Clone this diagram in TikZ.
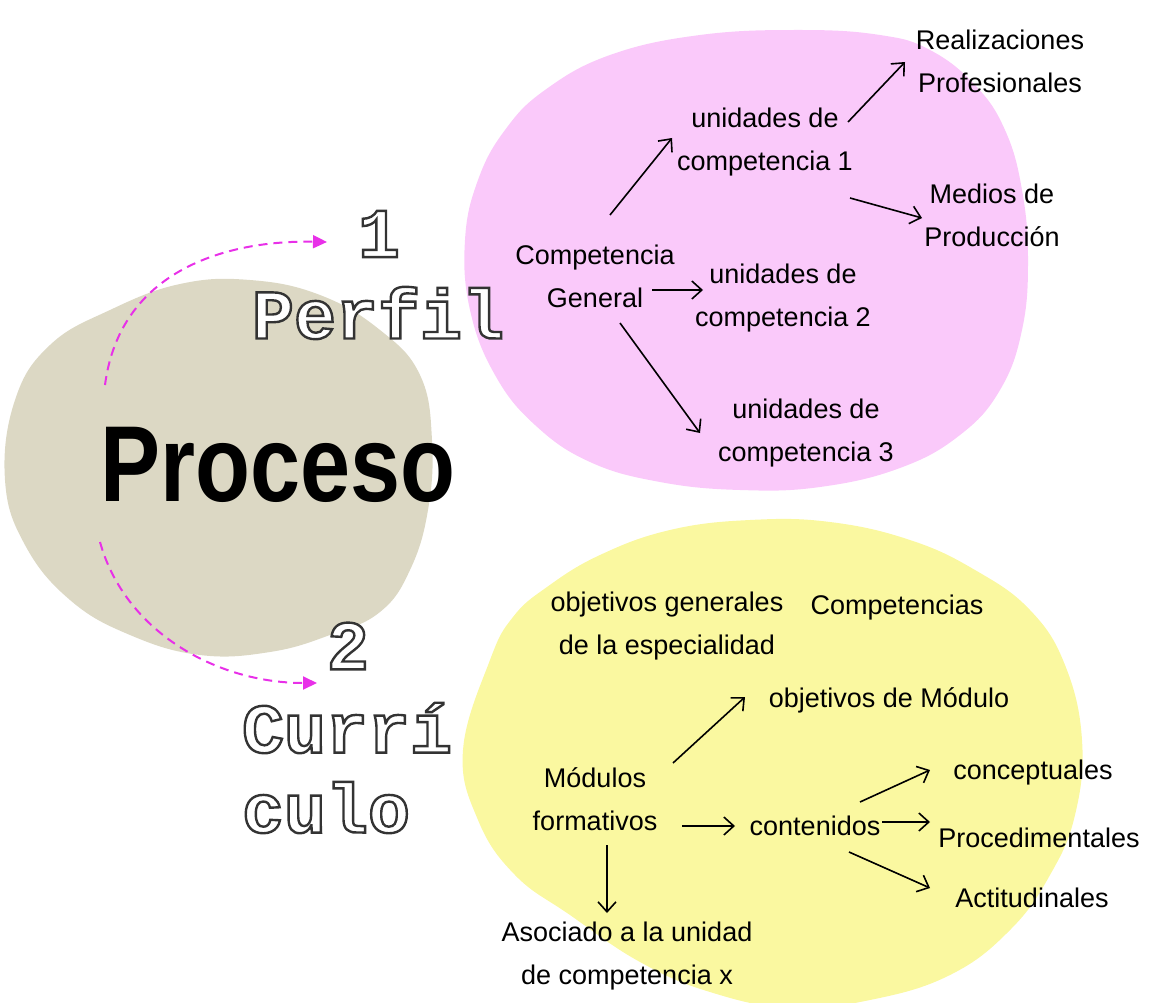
\documentclass[tikz,border=0pt]{standalone}
\usepackage{fontspec}
\setmainfont{Liberation Sans}
\newfontfamily\typew{Liberation Mono}
\usepackage{graphicx}
\usetikzlibrary{arrows.meta,calc}
\definecolor{kh}{RGB}{220, 216, 196}
\definecolor{pk}{RGB}{250, 201, 250}
\definecolor{ye}{RGB}{250, 248, 160}
\definecolor{mg}{RGB}{232, 48, 232}
\def\outl#1{\special{pdf:literal direct 0.2 0.2 0.2 RG 2 Tr 2.4 w}#1\special{pdf:literal direct 0 Tr}}

\begin{document}
\begin{tikzpicture}[x=1pt, y=-1pt,
    txt/.style={align=center, inner sep=0pt, font=\fontsize{27}{43}\selectfont},
    ttl/.style={inner sep=0pt, text=white, font=\typew\bfseries\fontsize{70}{80}\selectfont},
    arr/.style={-{Straight Barb[length=10pt,width=18pt]}, line width=1.6pt},
    dasharr/.style={-{Triangle[length=14pt,width=13pt]}, mg, line width=2pt, dash pattern=on 9pt off 6pt}]
      \useasboundingbox (0,0) rectangle (1153,1003);

      \fill[kh] plot[smooth cycle, tension=.7] coordinates {(5,480) (15,400) (50,345) (110,310) (180,284) (250,280) (320,295) (380,330) (420,375) (432,440) (428,510) (410,570) (380,612) (330,635) (270,652) (200,655) (130,635) (70,600) (25,545)};
      \fill[pk] plot[smooth cycle, tension=.7] coordinates {(465,240) (478,180) (505,130) (545,90) (610,55) (700,35) (800,30) (880,35) (930,50) (975,85) (1005,130) (1022,190) (1028,260) (1022,330) (1000,390) (960,435) (900,468) (820,487) (740,490) (660,482) (590,462) (535,425) (495,375) (470,310)};
      \fill[ye] plot[smooth cycle, tension=.7] coordinates {(490,660) (513,617) (547,587) (600,555) (670,530) (750,520) (830,522) (910,540) (975,570) (1030,610) (1065,665) (1082,740) (1075,815) (1050,875) (1010,930) (950,975) (870,1000) (790,1008) (710,992) (640,962) (570,915) (515,875) (478,820) (463,750)};

      \node[inner sep=0pt, font=\bfseries\fontsize{90}{90}\selectfont] (PC) at (278,465) {\scalebox{1}[1.2]{Proceso}};
      \node[ttl] (N1) at (379,234) {\outl{1}};
      \node[ttl] (PF) at (378,313) {\outl{Perfil}};
      \node[ttl] (N2) at (348,646) {\outl{2}};
      \node[ttl, align=left] (CU) at (347,768) {\outl{Currí}\\\outl{culo}};

      \node[txt] (R)  at (1000,61) {Realizaciones\\Profesionales};
      \node[txt] (M)  at (992,215) {Medios de\\Producción};
      \node[txt] (U1) at (765,142) {unidades de\\competencia 1};
      \node[txt] (CG) at (595,276) {Competencia\\General};
      \node[txt] (U2) at (783,298) {unidades de\\competencia 2};
      \node[txt] (U3) at (806,433) {unidades de\\competencia 3};

      \node[txt] (OG) at (667,626) {objetivos generales\\de la especialidad};
      \node[txt] (CO) at (897,608) {Competencias};
      \node[txt] (OM) at (889,700) {objetivos de Módulo};
      \node[txt] (MF) at (595,799) {Módulos\\formativos};
      \node[txt] (CT) at (815,826) {contenidos};
      \node[txt] (CC) at (1033,773) {conceptuales};
      \node[txt] (PR) at (1039,838) {Procedimentales};
      \node[txt] (AC) at (1032,898) {Actitudinales};
      \node[txt] (AS) at (627,956) {Asociado a la unidad\\de competencia x};

      \draw[dasharr] ($(PC)+(-173,-80)$) .. controls +(15,-115) and +(-100,-2) .. ($(N1)+(-52,8)$);
      \draw[dasharr] ($(PC)+(-178,77)$) .. controls +(25,90) and +(-100,0) .. ($(N2)+(-31,37)$);

      \draw[arr] ($(CG)+(15,-61)$) -- ($(U1)+(-93,-4)$);
      \draw[arr] ($(CG)+(57,14)$)  -- ($(U2)+(-80,-8)$);
      \draw[arr] ($(CG)+(25,47)$)  -- ($(U3)+(-106,0)$);
      \draw[arr] ($(U1)+(83,-20)$) -- ($(R)+(-95,1)$);
      \draw[arr] ($(U1)+(85,56)$)  -- ($(M)+(-70,3)$);
      \draw[arr] ($(MF)+(78,-36)$) -- ($(OM)+(-144,-3)$);
      \draw[arr] ($(MF)+(87,27)$)  -- ($(CT)+(-80,0)$);
      \draw[arr] ($(MF)+(12,46)$)  -- ($(AS)+(-20,-43)$);
      \draw[arr] ($(CT)+(45,-24)$) -- ($(CC)+(-103,-3)$);
      \draw[arr] ($(CT)+(67,-4)$)  -- ($(PR)+(-109,-16)$);
      \draw[arr] ($(CT)+(34,26)$)  -- ($(AC)+(-102,-10)$);
\end{tikzpicture}
\end{document}
